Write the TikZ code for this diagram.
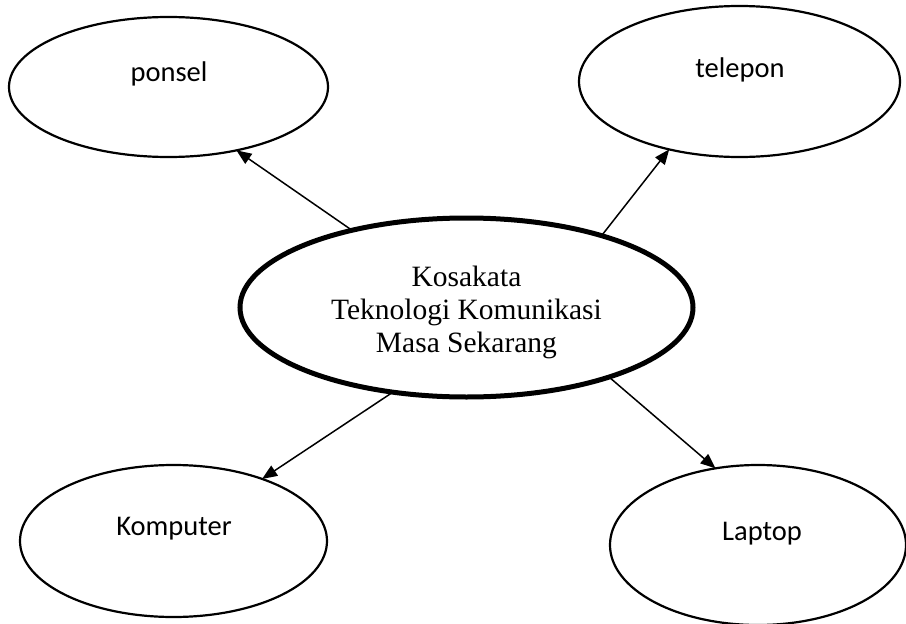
\documentclass[tikz,border=0pt]{standalone}
\usepackage{fontspec}
\setmainfont{Liberation Serif}
\newfontfamily\calibri{Carlito}
\usetikzlibrary{shapes.geometric,arrows.meta}
\begin{document}
\begin{tikzpicture}[x=1pt,y=-1pt,
  oval/.style={ellipse,draw=black,line width=2.2pt,inner sep=0pt,outer sep=0pt,fill=white},
  mainoval/.style={ellipse,draw=black,line width=5pt,inner sep=0pt,outer sep=0pt,fill=white},
  lbl/.style={anchor=base,inner sep=0pt,font=\calibri\fontsize{28.5}{33}\selectfont},
  conn/.style={line width=1.5pt,-{Triangle[length=15pt,width=12pt]}}]
\useasboundingbox[fill=white] (0,0) rectangle (906,624);
\node[oval,minimum width=319pt,minimum height=140pt] (ponsel) at (168.5,87) {};
\node[oval,minimum width=321pt,minimum height=151pt] (telepon) at (739.5,81.5) {};
\node[oval,minimum width=307pt,minimum height=152pt] (komputer) at (173.5,541) {};
\node[oval,minimum width=296pt,minimum height=160pt] (laptop) at (758,545) {};
\node[mainoval,minimum width=453pt,minimum height=179pt] (main) at (466.5,307.5) {};
\node[align=center,inner sep=0pt,font=\fontsize{29.5}{33}\selectfont] (maintext) at (466.5,312) {Kosakata\\Teknologi Komunikasi\\Masa Sekarang};
\node[lbl] (tponsel) at (169,81) {ponsel};
\node[lbl] (ttelepon) at (740,77) {telepon};
\node[lbl] (tkomputer) at (174,535) {Komputer};
\node[lbl] (tlaptop) at (762,540) {Laptop};
\draw[conn] (main.146.8) -- (ponsel.-43.5);
\draw[conn] (main.28.2) -- (telepon.224.6);
\draw[conn] (main.229.5) -- (komputer.35.4);
\draw[conn] (main.-26.3) -- (laptop.119.2);
\end{tikzpicture}
\end{document}
